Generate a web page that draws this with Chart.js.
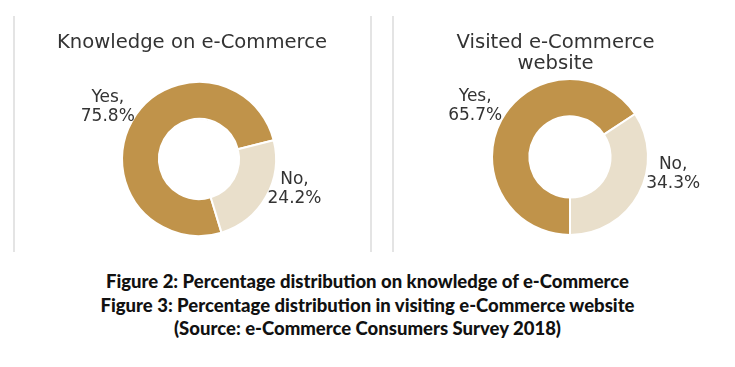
<!DOCTYPE html>
<html>
<head>
<meta charset="utf-8">
<script src="https://cdn.jsdelivr.net/npm/chart.js@4/dist/chart.umd.min.js"></script>
<style>
  html, body { margin: 0; padding: 0; background: #ffffff; }
  body { width: 735px; height: 367px; position: relative; overflow: hidden; }
  .vline { position: absolute; top: 16px; height: 236px; width: 2px; background: #e4e4e4; }
  .panel { position: absolute; top: 0; height: 255px; }
  .title { position: absolute; left: 0; right: 0; text-align: center;
           font-family: "DejaVu Sans", Verdana, sans-serif; font-size: 19.6px; color: #333333; line-height: 21px; }
  .caption { position: absolute; left: 0; top: 270px; width: 735px; text-align: center;
             font-family: Lato, "Open Sans", sans-serif; font-weight: 900; font-size: 18.5px;
             line-height: 23.5px; color: #111111; }
</style>
</head>
<body>
<div class="vline" style="left:13px"></div>
<div class="vline" style="left:370px"></div>
<div class="vline" style="left:392px"></div>

<div class="panel" style="left:14px; width:356px;">
  <canvas id="c1"></canvas>
  <div class="title" style="top:31px;">Knowledge on e-Commerce</div>
</div>
<div class="panel" style="left:394px; width:341px;">
  <canvas id="c2"></canvas>
  <div class="title" style="top:31px; right:18px;">Visited e-Commerce<br>website</div>
</div>

<div class="caption">
  Figure 2: Percentage distribution on knowledge of e-Commerce<br>
  Figure 3: Percentage distribution in visiting e-Commerce website<br>
  (Source: e-Commerce Consumers Survey 2018)
</div>

<script>
// ---- data ----
const categories = ["Yes", "No"];
const knowledgeValues = [75.8, 24.2];
const visitedValues = [65.7, 34.3];
const chartTitles = ["Knowledge on e-Commerce", "Visited e-Commerce website"];

// ---- styles ----
const sliceColors = ["#c0934a", "#e9dfcb"];
const labelColor = "#333333";

const outsideLabels = {
  id: "outsideLabels",
  afterDatasetsDraw(chart, args, opts) {
    const ctx = chart.ctx;
    const meta = chart.getDatasetMeta(0);
    const ds = chart.data.datasets[0];
    ctx.save();
    ctx.font = "17px 'DejaVu Sans', Verdana, sans-serif";
    ctx.fillStyle = labelColor;
    ctx.textAlign = "center";
    ctx.textBaseline = "middle";
    meta.data.forEach((arc, i) => {
      const p = arc.getProps(["x", "y", "startAngle", "endAngle", "outerRadius"], true);
      const mid = (p.startAngle + p.endAngle) / 2 + (opts.angleShift[i] || 0) * Math.PI / 180;
      const r = p.outerRadius * opts.distance[i];
      const cx = p.x + Math.cos(mid) * r;
      const cy = p.y + Math.sin(mid) * r;
      const lines = [chart.data.labels[i] + ",", ds.data[i].toFixed(1) + "%"];
      const lh = 19;
      lines.forEach((t, k) => ctx.fillText(t, cx, cy + (k - (lines.length - 1) / 2) * lh));
    });
    ctx.restore();
  }
};

function makeDonut(id, values, rotation, padding, labelOpts) {
  return new Chart(document.getElementById(id), {
    type: "doughnut",
    data: {
      labels: categories,
      datasets: [{
        data: values,
        backgroundColor: sliceColors,
        borderColor: "#ffffff",
        borderWidth: 2,
        hoverOffset: 0
      }]
    },
    options: {
      responsive: true,
      maintainAspectRatio: false,
      animation: false,
      rotation: rotation,
      cutout: "52%",
      layout: { padding: padding },
      plugins: {
        legend: { display: false },
        tooltip: { enabled: false },
        title: { display: false },
        outsideLabels: labelOpts
      }
    },
    plugins: [outsideLabels]
  });
}

makeDonut("c1", knowledgeValues, 163,
  { left: 107, right: 93, top: 81, bottom: 18 },
  { distance: [1.36, 1.30], angleShift: [0, -12] });
makeDonut("c2", visitedValues, 180,
  { left: 97, right: 86, top: 78, bottom: 19 },
  { distance: [1.38, 1.34], angleShift: [0, -19] });
</script>
</body>
</html>
